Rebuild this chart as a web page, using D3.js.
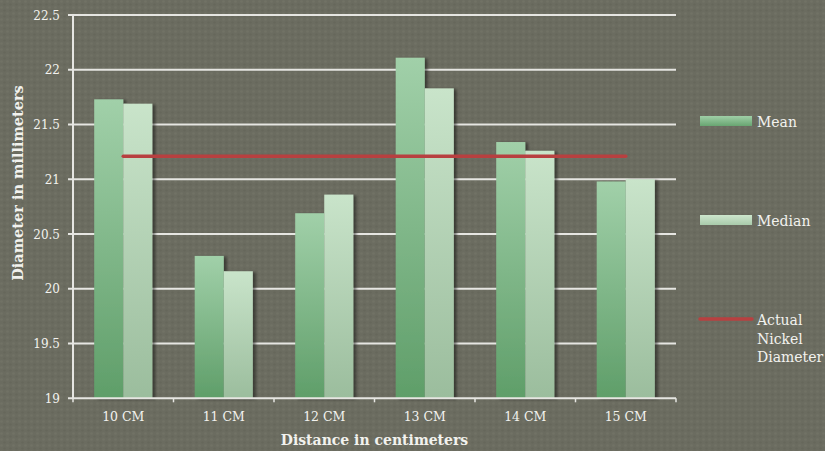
<!DOCTYPE html>
<html><head><meta charset="utf-8">
<script src="https://cdn.jsdelivr.net/npm/d3@7"></script>
<style>body{margin:0;background:#6b6c60;}svg{display:block;}</style>
</head><body>
<script>
const categories = ["10 CM","11 CM","12 CM","13 CM","14 CM","15 CM"];
const meanValues = [21.73,20.30,20.69,22.11,21.34,20.98];
const medianValues = [21.69,20.16,20.86,21.83,21.26,21.00];
const actualDiameter = [21.21,21.21,21.21,21.21,21.21,21.21];
const yTicks = [19,19.5,20,20.5,21,21.5,22,22.5];
const seriesNames = ["Mean","Median","Actual Nickel Diameter"];

(function(){
const W=825,H=451;
const font="'DejaVu Serif', serif";
const svg=d3.select("body").append("svg").attr("width",W).attr("height",H);
const defs=svg.append("defs");
const pat=defs.append("pattern").attr("id","tex").attr("width",6).attr("height",6).attr("patternUnits","userSpaceOnUse");
pat.append("rect").attr("width",6).attr("height",6).attr("fill","#6b6c60");
pat.append("circle").attr("cx",1.5).attr("cy",1.5).attr("r",1.3).attr("fill","#717265");
pat.append("circle").attr("cx",4.5).attr("cy",4.5).attr("r",1.3).attr("fill","#66675b");
svg.append("rect").attr("width",W).attr("height",H).attr("fill","url(#tex)");

function grad(id,a,b){
  const g=defs.append("linearGradient").attr("id",id).attr("x1",0).attr("y1",0).attr("x2",0).attr("y2",1);
  g.append("stop").attr("offset","0%").attr("stop-color",a);
  g.append("stop").attr("offset","100%").attr("stop-color",b);
}
grad("gMean","#a1d0a9","#5f9e69");
grad("gMed","#c9e4ca","#9bbd9d");
grad("lMean","#9fcfa7","#68a571");
grad("lMed","#cde6cd","#a9cbab");
const f=defs.append("filter").attr("id","sh").attr("x","-20%").attr("y","-5%").attr("width","150%").attr("height","110%");
f.append("feDropShadow").attr("dx",3).attr("dy",1).attr("stdDeviation",1.6).attr("flood-color","#000").attr("flood-opacity",0.45);

const pl=73,pr=676,pt=15,pb=398.3;
const x=d3.scaleBand().domain(categories).range([pl,pr]);
const xs=d3.scaleBand().domain([0,1]).range([0,x.bandwidth()]).paddingInner(0).paddingOuter(0.73);
const y=d3.scaleLinear().domain([19,22.5]).range([pb,pt]);

svg.append("g").selectAll("line").data(yTicks.slice(1)).join("line")
 .attr("x1",pl-5).attr("x2",pr).attr("y1",d=>y(d)).attr("y2",d=>y(d))
 .attr("stroke","#e6e6e2").attr("stroke-width",2);

svg.append("g").selectAll("text").data(yTicks).join("text")
 .attr("x",pl-13).attr("y",d=>y(d)+4.5).attr("text-anchor","end")
 .attr("font-family",font).attr("font-size",12).attr("fill","#f2f2ee").text(d=>d);

const bars=svg.append("g").attr("filter","url(#sh)");
const series=[{vals:meanValues,fill:"url(#gMean)"},{vals:medianValues,fill:"url(#gMed)"}];
series.forEach((s,i)=>{
  bars.selectAll("rect.s"+i).data(categories).join("rect").attr("class","s"+i)
   .attr("x",c=>x(c)+xs(i)).attr("width",xs.bandwidth())
   .attr("y",(c,j)=>y(s.vals[j])).attr("height",(c,j)=>pb-y(s.vals[j]))
   .attr("fill",s.fill);
});

svg.append("line").attr("x1",pl).attr("x2",pl).attr("y1",pt).attr("y2",pb).attr("stroke","#e6e6e2").attr("stroke-width",2);
svg.append("line").attr("x1",pl-5).attr("x2",pr).attr("y1",pb).attr("y2",pb).attr("stroke","#e6e6e2").attr("stroke-width",2);
const bounds=categories.map(c=>x(c)).concat([pr]);
svg.append("g").selectAll("line").data(bounds).join("line")
 .attr("x1",d=>d).attr("x2",d=>d).attr("y1",pb).attr("y2",pb+4)
 .attr("stroke","#e6e6e2").attr("stroke-width",1.5);

svg.append("g").selectAll("text").data(categories).join("text")
 .attr("x",c=>x(c)+x.bandwidth()/2).attr("y",421).attr("text-anchor","middle")
 .attr("font-family",font).attr("font-size",12.5).attr("fill","#f2f2ee").text(c=>c);

const line=d3.line().x((d,i)=>x(categories[i])+x.bandwidth()/2).y(d=>y(d));
svg.append("path").datum(actualDiameter).attr("d",line).attr("fill","none")
 .attr("stroke","#b84040").attr("stroke-width",3.5).attr("stroke-linecap","round");

svg.append("text").attr("x",(pl+pr)/2).attr("y",445).attr("text-anchor","middle")
 .attr("font-family",font).attr("font-weight","bold").attr("font-size",14).attr("fill","#f2f2ee")
 .text("Distance in centimeters");
svg.append("text").attr("transform","translate(23,183) rotate(-90)").attr("text-anchor","middle")
 .attr("font-family",font).attr("font-weight","bold").attr("font-size",14.5).attr("fill","#f2f2ee")
 .text("Diameter in millimeters");

const lg=svg.append("g");
lg.append("rect").attr("x",700).attr("y",116).attr("width",52).attr("height",10).attr("fill","url(#lMean)");
lg.append("rect").attr("x",700).attr("y",215).attr("width",52).attr("height",10).attr("fill","url(#lMed)");
lg.append("line").attr("x1",700).attr("x2",752).attr("y1",319).attr("y2",319).attr("stroke","#b84040").attr("stroke-width",3.5).attr("stroke-linecap","round");
const lt=(t,xx,yy)=>lg.append("text").attr("x",xx).attr("y",yy).attr("font-family",font).attr("font-size",14).attr("fill","#f2f2ee").text(t);
lt(seriesNames[0],757,127);
lt(seriesNames[1],757,226);
seriesNames[2].split(" ").forEach((p,i)=>lt(p,757,325+i*18.5));
})();
</script>
</body></html>
